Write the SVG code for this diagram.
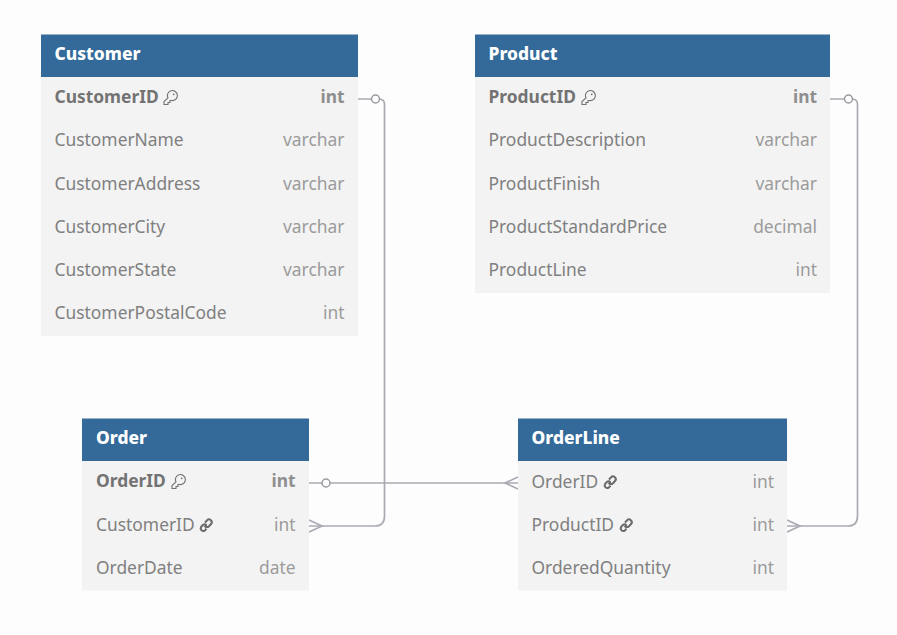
<svg xmlns="http://www.w3.org/2000/svg" width="897" height="635" viewBox="0 0 897 635">
<style>
text{font-family:"Noto Sans","Open Sans",sans-serif;font-size:17.4px;fill:#808080}
.h{font-weight:800;fill:#fff;font-size:17.4px}
.b{font-weight:700;fill:#737373}
.t{text-anchor:end;fill:#9b9b9b}
.tb{text-anchor:end;font-weight:700;fill:#8e8e8e}
.hd{fill:#336a99}
.bd{fill:#f3f3f3}
.c{fill:none;stroke:#aaaab3;stroke-width:1.7}
.o{fill:#fdfdfd;stroke:#9a9aa3;stroke-width:1.5}
.k{fill:none;stroke:#707070;stroke-width:1.1}
.l{fill:none;stroke:#6a6a6a;stroke-width:2}
</style>
<defs>
<g id="key"><path class="k" d="M5.500 8.500A5 5 0 1 1 9 11L7.500 11V13H5.500V15H1.500V12Z"/><circle cx="11.200" cy="4.800" r="0.900" fill="#707070"/></g>
<g id="link"><path class="l" d="M6 5.500L8 3.300A2.700 2.700 0 0 1 12 7L10 9.200A2.700 2.700 0 0 1 6.300 9.200"/><path class="l" d="M7.500 8L5.500 10.200"/><path class="l" d="M7.500 8.300A2.700 2.700 0 0 0 3.800 8L2 10A2.700 2.700 0 0 0 5.700 13.600L7.500 11.600"/></g>
</defs>
<rect width="897" height="635" fill="#fdfdfd"/>
<g id="connectors">
<path class="c" d="M358 99H379Q384.500 99 384.500 104.500V516Q384.500 526 375 526H309"/>
<circle class="o" cx="375.500" cy="99" r="4"/>
<path class="c" d="M309 520L322 526L309 532"/>
<path class="c" d="M309 483H518"/>
<circle class="o" cx="326" cy="483" r="4"/>
<path class="c" d="M518 477L505 483L518 489"/>
<path class="c" d="M830 99H852Q857.500 99 857.500 104.500V516Q857.500 526 848 526H787"/>
<circle class="o" cx="848.500" cy="99" r="4"/>
<path class="c" d="M787 520L800 526L787 532"/>
</g>
<g id="customer">
<rect class="bd" x="41" y="77" width="317" height="259"/>
<rect class="hd" x="41" y="34.500" width="317" height="42.500"/>
<text class="h" x="54.500" y="60">Customer</text>
<text class="b" x="54.500" y="103.300">CustomerID</text><use href="#key" x="162.500" y="89.500"/><text class="tb" x="344.500" y="103.300">int</text>
<text x="54.500" y="146.300">CustomerName</text><text class="t" x="344.500" y="146.300">varchar</text>
<text x="54.500" y="189.500">CustomerAddress</text><text class="t" x="344.500" y="189.500">varchar</text>
<text x="54.500" y="232.500">CustomerCity</text><text class="t" x="344.500" y="232.500">varchar</text>
<text x="54.500" y="276.300">CustomerState</text><text class="t" x="344.500" y="276.300">varchar</text>
<text x="54.500" y="319.300">CustomerPostalCode</text><text class="t" x="344.500" y="319.300">int</text>
</g>
<g id="product">
<rect class="bd" x="475" y="77" width="355" height="216"/>
<rect class="hd" x="475" y="34.500" width="355" height="42.500"/>
<text class="h" x="488.500" y="60">Product</text>
<text class="b" x="488.500" y="103.300">ProductID</text><use href="#key" x="580.500" y="89.500"/><text class="tb" x="817" y="103.300">int</text>
<text x="488.500" y="146.300">ProductDescription</text><text class="t" x="817" y="146.300">varchar</text>
<text x="488.500" y="189.500">ProductFinish</text><text class="t" x="817" y="189.500">varchar</text>
<text x="488.500" y="232.500">ProductStandardPrice</text><text class="t" x="817" y="232.500">decimal</text>
<text x="488.500" y="276.300">ProductLine</text><text class="t" x="817" y="276.300">int</text>
</g>
<g id="order">
<rect class="bd" x="82" y="461" width="227" height="129.500"/>
<rect class="hd" x="82" y="418.500" width="227" height="42.500"/>
<text class="h" x="96" y="444">Order</text>
<text class="b" x="96" y="487.300">OrderID</text><use href="#key" x="170.500" y="473.500"/><text class="tb" x="295.500" y="487.300">int</text>
<text x="96" y="530.500">CustomerID</text><use href="#link" x="199" y="517"/><text class="t" x="295.500" y="530.500">int</text>
<text x="96" y="573.500">OrderDate</text><text class="t" x="295.500" y="573.500">date</text>
</g>
<g id="orderline">
<rect class="bd" x="518" y="461" width="269" height="129.500"/>
<rect class="hd" x="518" y="418.500" width="269" height="42.500"/>
<text class="h" x="531.500" y="444">OrderLine</text>
<text x="531.500" y="487.500">OrderID</text><use href="#link" x="603" y="474"/><text class="t" x="774" y="487.500">int</text>
<text x="531.500" y="530.500">ProductID</text><use href="#link" x="619" y="517"/><text class="t" x="774" y="530.500">int</text>
<text x="531.500" y="573.500">OrderedQuantity</text><text class="t" x="774" y="573.500">int</text>
</g>
</svg>
